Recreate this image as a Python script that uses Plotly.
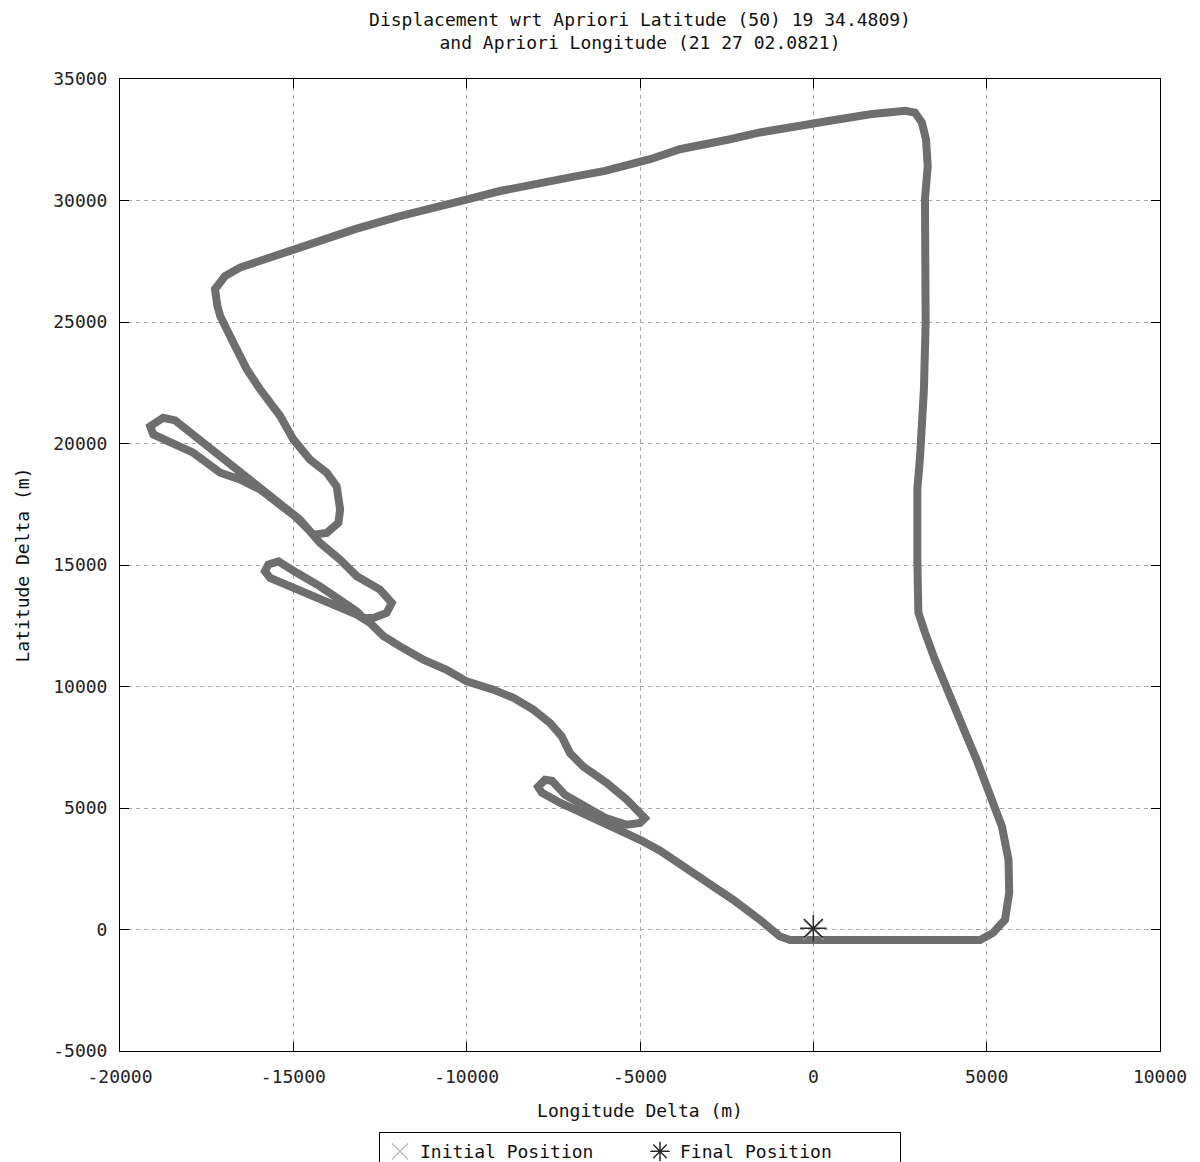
import plotly.graph_objects as go

# Flight track (metres relative to a-priori position)
lon_m = [-700, 2500, 4810, 5180, 5530, 5650, 5630, 5440, 5240, 5000, 4710, 4380, 4090, 3800,
         3510, 3220, 3030, 3000, 3000, 3080, 3160, 3190, 3240, 3220, 3220, 3300, 3250, 3130,
         2930, 2650, 1640, 480, -670, -1540, -2400, -3850, -4710, -6010, -7020, -8170, -9040,
         -9980, -11060, -11920, -13220, -14230, -14950, -15670, -16540, -16970, -17260, -17190,
         -17110, -16730, -16340, -15960, -15380, -15000, -14520, -14040, -13750, -13650, -13700,
         -14040, -14420, -14950, -15960, -16540, -17110, -17890, -18560, -19040, -19130, -18750,
         -18410, -18080, -17310, -16730, -16150, -15480, -14810, -14230, -13650, -13170, -12500,
         -12160, -12310, -12690, -12980, -13170, -13650, -14230, -14900, -15430, -15720, -15820,
         -15670, -15100, -14420, -13750, -13170, -12790, -12400, -11920, -11250, -10580, -10000,
         -9230, -8650, -8080, -7600, -7260, -7020, -6640, -5960, -5380, -5000, -4860, -5000,
         -5380, -6010, -6590, -7160, -7540, -7740, -7940, -7830, -7310, -6730, -6150, -5520,
         -5000, -4420, -3270, -2310, -1540, -960, -670, -300]
lat_m = [-430, -430, -430, -140, 400, 1510, 2870, 4240, 5060, 5890, 6990, 8100, 9050, 10000,
         11100, 12220, 13040, 15220, 18110, 19480, 20860, 22230, 24990, 27720, 30050, 31420,
         32520, 33210, 33620, 33690, 33550, 33280, 33010, 32800, 32520, 32110, 31700, 31220,
         30950, 30670, 30390, 30050, 29710, 29360, 28820, 28340, 27990, 27650, 27240, 26890,
         26350, 25660, 25250, 24150, 23050, 22230, 21130, 20170, 19340, 18800, 18240, 17280,
         16740, 16320, 16250, 17000, 18110, 18520, 18800, 19620, 20030, 20370, 20710, 21060,
         20950, 20580, 19760, 19070, 18380, 17700, 16870, 15910, 15220, 14540, 13990, 13440,
         13030, 12820, 12820, 13090, 13580, 14120, 14680, 15150, 15020, 14740, 14470, 14120,
         13780, 13370, 12960, 12620, 12070, 11650, 11100, 10690, 10210, 9870, 9530, 9050, 8500,
         7950, 7260, 6710, 6030, 5340, 4860, 4580, 4380, 4310, 4600, 5090, 5540, 6120, 6160,
         5870, 5630, 5220, 4840, 4510, 4100, 3690, 3240, 2180, 1220, 400, -290, -430, -430]

initial_lon = [0]
initial_lat = [0]
final_lon = [0]
final_lat = [50]

x_ticks = [-20000, -15000, -10000, -5000, 0, 5000, 10000]
x_tick_labels = ["-20000", "-15000", "-10000", "-5000", "0", "5000", "10000"]
y_ticks = [-5000, 0, 5000, 10000, 15000, 20000, 25000, 30000, 35000]
y_tick_labels = ["-5000", "0", "5000", "10000", "15000", "20000", "25000", "30000", "35000"]

FONT = "DejaVu Sans Mono"

fig = go.Figure()
fig.add_trace(go.Scatter(
    x=lon_m, y=lat_m, mode="lines",
    line=dict(color="#6e6e6e", width=8),
    showlegend=False, hoverinfo="skip"))
fig.add_trace(go.Scatter(
    x=initial_lon, y=initial_lat, mode="markers", name="Initial Position",
    marker=dict(symbol="x-thin-open", size=20, color="#b0b0b0",
                line=dict(color="#b0b0b0", width=1.2))))
fig.add_trace(go.Scatter(
    x=final_lon, y=final_lat, mode="markers", name="Final Position",
    marker=dict(symbol="asterisk-open", size=22, color="#2a2a2a",
                line=dict(color="#2a2a2a", width=1.5))))

axis_common = dict(
    showline=True, linecolor="black", linewidth=1, mirror="ticks",
    ticks="inside", ticklen=9, tickcolor="black", tickwidth=1,
    showgrid=True, gridcolor="#a8a8a8", gridwidth=1, griddash="4px,4px",
    zeroline=False, tickfont=dict(family=FONT, size=18, color="#222222"),
)

fig.update_layout(
    width=1192, height=1154, autosize=False,
    margin=dict(l=112, r=40, t=71, b=111, autoexpand=False),
    paper_bgcolor="white", plot_bgcolor="white",
    font=dict(family=FONT, size=18, color="#111111"),
    title=dict(
        text="Displacement wrt Apriori Latitude (50) 19 34.4809)<br>and Apriori Longitude (21 27 02.0821)",
        x=0.5, xref="paper", xanchor="center",
        y=0.9845, yref="container", yanchor="top",
        font=dict(family=FONT, size=18, color="#111111")),
    xaxis=dict(range=[-20000, 10000], tickvals=x_ticks, ticktext=x_tick_labels,
               ticklabelstandoff=9,
               title=dict(text="Longitude Delta (m)", standoff=18,
                          font=dict(family=FONT, size=18)),
               **axis_common),
    yaxis=dict(range=[-5000, 35000], tickvals=y_ticks, ticktext=y_tick_labels,
               ticklabelstandoff=8,
               title=dict(text="Latitude Delta (m)", standoff=18,
                          font=dict(family=FONT, size=18)),
               **axis_common),
    legend=dict(orientation="h", x=0.5, xanchor="center", y=-0.0835, yanchor="top",
                bordercolor="black", borderwidth=1, bgcolor="white",
                font=dict(family=FONT, size=18, color="#111111"),
                entrywidth=215, entrywidthmode="pixels"),
)

fig.write_html("out.html")
